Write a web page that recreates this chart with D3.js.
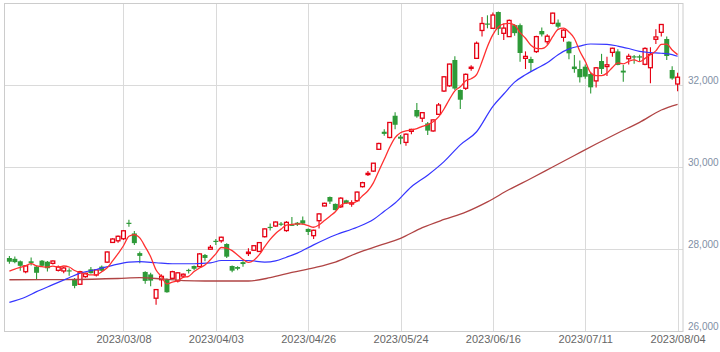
<!DOCTYPE html>
<html><head><meta charset="utf-8">
<script src="https://cdn.jsdelivr.net/npm/d3@7"></script>
<style>html,body{margin:0;padding:0;background:#fff;}svg{display:block;}</style>
</head><body>
<div id="chart"></div>
<script>
// Trading days (categories)
const dates = [
"2023/02/06","2023/02/07","2023/02/08","2023/02/09","2023/02/10","2023/02/13","2023/02/14","2023/02/15","2023/02/16","2023/02/17",
"2023/02/20","2023/02/21","2023/02/22","2023/02/24","2023/02/27","2023/02/28","2023/03/01","2023/03/02","2023/03/03","2023/03/06",
"2023/03/07","2023/03/08","2023/03/09","2023/03/10","2023/03/13","2023/03/14","2023/03/15","2023/03/16","2023/03/17","2023/03/20",
"2023/03/22","2023/03/23","2023/03/24","2023/03/27","2023/03/28","2023/03/29","2023/03/30","2023/03/31","2023/04/03","2023/04/04",
"2023/04/05","2023/04/06","2023/04/07","2023/04/10","2023/04/11","2023/04/12","2023/04/13","2023/04/14","2023/04/17","2023/04/18",
"2023/04/19","2023/04/20","2023/04/21","2023/04/24","2023/04/25","2023/04/26","2023/04/27","2023/04/28","2023/05/01","2023/05/02",
"2023/05/08","2023/05/09","2023/05/10","2023/05/11","2023/05/12","2023/05/15","2023/05/16","2023/05/17","2023/05/18","2023/05/19",
"2023/05/22","2023/05/23","2023/05/24","2023/05/25","2023/05/26","2023/05/29","2023/05/30","2023/05/31","2023/06/01","2023/06/02",
"2023/06/05","2023/06/06","2023/06/07","2023/06/08","2023/06/09","2023/06/12","2023/06/13","2023/06/14","2023/06/15","2023/06/16",
"2023/06/19","2023/06/20","2023/06/21","2023/06/22","2023/06/23","2023/06/26","2023/06/27","2023/06/28","2023/06/29","2023/06/30",
"2023/07/03","2023/07/04","2023/07/05","2023/07/06","2023/07/07","2023/07/10","2023/07/11","2023/07/12","2023/07/13","2023/07/14",
"2023/07/18","2023/07/19","2023/07/20","2023/07/21","2023/07/24","2023/07/25","2023/07/26","2023/07/27","2023/07/28","2023/07/31",
"2023/08/01","2023/08/02","2023/08/03","2023/08/04"];

const open = [
27780,27760,27700,27446,27700,27570,27715,27690,27650,27480,
27464,27480,27270,27140,27325,27505,27366,27570,27680,28160,
28200,28250,28640,28380,27900,27440,27380,26800,27250,27260,
27285,27220,27340,27490,27585,27570,27854,27995,28200,28200,
28122,27585,27560,27680,27890,27970,27940,28300,28540,28560,
28620,28450,28600,28640,28700,28490,28325,28690,29050,29268,
29100,29030,29187,29110,29178,29520,29830,29900,30432,30860,
30720,31250,30740,30600,30870,31390,31190,31063,30880,31285,
31853,31980,32610,31878,31920,32410,32650,33330,33500,33383,
33780,33260,33180,33460,33460,32650,32634,32815,33317,33056,
33505,33520,33163,33056,32450,32390,32447,32268,32100,32585,
32450,32795,32820,32350,32640,32700,32700,32505,32422,33115,
33285,33122,32366,32024];
const high = [
27830,27820,27720,27600,27790,27590,27730,27710,27720,27600,
27560,27530,27290,27470,27420,27560,27500,27600,27940,28260,
28330,28460,28715,28440,27940,27460,27420,27020,27380,27280,
27470,27430,27400,27520,27600,27900,27880,28100,28245,28300,
28140,27600,27580,27700,28017,28090,28160,28500,28620,28670,
28660,28680,28780,28660,28790,28500,28470,28870,29130,29280,
29110,29260,29200,29190,29400,29640,29900,30100,30590,30920,
31100,31334,30780,30820,30930,31560,31330,31100,31160,31560,
32220,32520,32700,31890,32280,32480,33060,33660,33700,33770,
33790,33500,33600,33480,33500,32820,32690,33200,33400,33240,
33760,33600,33360,33070,32730,32600,32500,32300,32440,32760,
32690,32910,32870,32490,32760,32730,32740,32920,32920,33360,
33490,33180,32460,32300];
const low = [
27640,27650,27470,27410,27600,27270,27570,27450,27620,27450,
27410,27350,27040,27120,27300,27400,27330,27450,27660,28150,
28150,28220,28545,28100,27650,27150,27090,26640,27080,26930,
27270,27180,27300,27400,27480,27560,27700,27990,28100,28150,
27780,27430,27480,27570,27830,27960,27930,28280,28450,28540,
28560,28420,28560,28560,28600,28340,28244,28500,29040,29100,
28940,29000,29100,29030,29150,29500,29780,29880,30420,30760,
30700,30920,30555,30520,30800,31200,31100,30780,30860,31270,
31830,31960,31880,31415,31880,32350,32640,33180,33383,33370,
33220,33100,33170,33200,32570,32390,32325,32780,33180,32990,
33480,33380,33056,32627,32300,32060,32150,31790,31940,32268,
32220,32690,32480,32080,32500,32520,32560,32480,32040,33000,
33180,32610,32130,31850];
const close = [
27690,27680,27590,27590,27660,27420,27590,27530,27707,27560,
27537,27470,27100,27446,27410,27410,27490,27470,27927,28244,
28310,28444,28623,28143,27832,27222,27229,27010,27333,26945,
27446,27419,27385,27476,27518,27880,27782,28041,28188,28287,
27813,27472,27518,27633,27923,28080,28156,28490,28514,28658,
28606,28650,28564,28593,28620,28416,28457,28856,29115,29157,
28950,29240,29122,29126,29388,29617,29845,30093,30573,30808,
31086,31030,30690,30800,30916,31233,31325,30887,31148,31512,
32200,32510,31913,31641,32260,32434,33018,33500,33480,33706,
33370,33388,33575,33265,32781,32698,32538,33180,33234,33190,
33753,33422,33338,32773,32388,32189,32203,31943,32419,32391,
32493,32896,32490,32304,32700,32682,32668,32891,32748,33172,
33476,32707,32159,32190];

// Short moving average (read per day)
const maShort = [
27460,27510,27550,27590,27642,27588,27570,27558,27581,27561,
27585,27561,27475,27423,27393,27367,27371,27445,27541,27708,
27888,28079,28310,28353,28270,28053,27810,27487,27325,27148,
27193,27231,27306,27334,27449,27536,27608,27739,27882,28036,
28022,27960,27856,27745,27672,27725,27862,28056,28233,28380,
28485,28584,28598,28614,28607,28569,28530,28588,28693,28800,
28907,29064,29117,29119,29165,29299,29420,29613,29903,30187,
30480,30717,30837,30883,30904,30934,30993,31032,31102,31221,
31414,31651,31857,31955,32105,32152,32253,32571,32938,33228,
33415,33489,33504,33461,33276,33141,32971,32892,32886,32968,
33179,33356,33387,33295,33135,32822,32578,32299,32228,32229,
32290,32428,32538,32515,32577,32614,32569,32649,32738,32832,
32991,32999,32852,32741];

// Medium moving average: [trading-day index, value]
const maMid = [
[0,26700],[3,26830],[5,26960],[8,27130],[11,27300],[13,27410],[16,27500],[19,27600],[22,27680],[24,27690],
[27,27665],[30,27640],[34,27640],[37,27660],[39,27720],[44,27720],[47,27680],[49,27710],[51,27800],[53,27900],
[56,28100],[60,28340],[64,28530],[67,28720],[69,28920],[71,29120],[74,29520],[77,29800],[80,30130],[83,30540],
[86,30860],[89,31480],[91,31780],[93,32070],[95,32250],[97,32400],[99,32540],[101,32740],[103,32880],[105,32950],
[107,33000],[110,32990],[112,32950],[114,32890],[116,32820],[118,32790],[120,32775],[122,32740],[123,32700]];

// Long moving average: [trading-day index, value]
const maLong = [
[0,27250],[10,27255],[20,27280],[24,27300],[28,27270],[32,27230],[36,27220],[40,27220],[44,27220],[48,27300],
[52,27430],[56,27540],[60,27680],[64,27900],[68,28080],[72,28260],[76,28520],[80,28720],[84,28900],[88,29150],
[92,29450],[96,29720],[100,30000],[104,30280],[108,30560],[112,30830],[116,31090],[120,31390],[123,31530]];

const xTickLabels = ["2023/03/08","2023/04/03","2023/04/26","2023/05/24","2023/06/16","2023/07/11","2023/08/04"];
const yTicks = [26000,28000,30000,32000];

const W = 720, H = 352;
const svg = d3.select("#chart").append("svg").attr("width", W).attr("height", H);

const plot = {left: 4.5, right: 683, top: 3.5, bottom: 331.5};
const x = d3.scalePoint().domain(dates).range([9.4, 677.6]);
const y = d3.scaleLinear().domain([26000, 34000]).range([331, 3]);

// grid
const grid = svg.append("g");
grid.selectAll("line.v").data(xTickLabels).join("line")
  .attr("x1", d => Math.round(x(d)) + 0.5).attr("x2", d => Math.round(x(d)) + 0.5)
  .attr("y1", plot.top).attr("y2", plot.bottom)
  .attr("stroke", "#dadada").attr("stroke-width", 1);
grid.selectAll("line.h").data(yTicks.filter(t => t > 26000)).join("line")
  .attr("x1", plot.left).attr("x2", plot.right)
  .attr("y1", d => Math.round(y(d)) + 0.5).attr("y2", d => Math.round(y(d)) + 0.5)
  .attr("stroke", "#dadada").attr("stroke-width", 1);
svg.append("rect").attr("x", plot.left).attr("y", plot.top)
  .attr("width", plot.right - plot.left).attr("height", plot.bottom - plot.top)
  .attr("fill", "none").attr("stroke", "#cccccc").attr("stroke-width", 1);

// candles
const RED = "#e60012", GREEN = "#2e9a38";
const cdata = dates.map((d, i) => ({d, o: open[i], h: high[i], l: low[i], c: close[i]}));
const cg = svg.append("g");
cg.selectAll("line.wick").data(cdata).join("line")
  .attr("x1", d => x(d.d)).attr("x2", d => x(d.d))
  .attr("y1", d => y(d.h)).attr("y2", d => y(d.l))
  .attr("stroke", d => d.c >= d.o ? RED : GREEN).attr("stroke-width", 1.1);
cg.selectAll("rect.body").data(cdata).join("rect")
  .each(function(d) {
    const up = d.c >= d.o;
    const top = y(Math.max(d.o, d.c));
    const hgt = Math.max(1.2, Math.abs(y(d.o) - y(d.c)));
    const s = d3.select(this);
    if (up) {
      s.attr("x", x(d.d) - 1.9).attr("width", 3.8).attr("y", top).attr("height", hgt)
       .attr("fill", "#ffffff").attr("stroke", RED).attr("stroke-width", 1.3);
    } else {
      s.attr("x", x(d.d) - 2.5).attr("width", 5).attr("y", top).attr("height", hgt)
       .attr("fill", GREEN).attr("stroke", "none");
    }
  });

// moving average lines
const lineShort = d3.line().x((v, i) => x(dates[i])).y(v => y(v)).curve(d3.curveMonotoneX);
const linePts = d3.line().x(p => x(dates[p[0]])).y(p => y(p[1])).curve(d3.curveMonotoneX);
svg.append("path").attr("d", linePts(maLong)).attr("fill", "none")
  .attr("stroke", "#b04444").attr("stroke-width", 1.3);
svg.append("path").attr("d", linePts(maMid)).attr("fill", "none")
  .attr("stroke", "#3535ff").attr("stroke-width", 1.2);
svg.append("path").attr("d", lineShort(maShort)).attr("fill", "none")
  .attr("stroke", "#ff3030").attr("stroke-width", 1.3);

// axes
const yAxis = d3.axisRight(y).tickValues(yTicks).tickFormat(d3.format(",")).tickSize(0).tickPadding(0);
const ya = svg.append("g").attr("transform", `translate(688,0)`).call(yAxis);
ya.select(".domain").remove();
ya.selectAll("text").attr("dy", "-0.2em").attr("fill", "#8190a5")
  .style("font-family", "'Liberation Sans', Arial, sans-serif").style("font-size", "10px");

const xAxis = d3.axisBottom(x).tickValues(xTickLabels).tickSize(0).tickPadding(0);
const xa = svg.append("g").attr("transform", `translate(0,335)`).call(xAxis);
xa.select(".domain").remove();
xa.selectAll("text").attr("dy", "0.75em").attr("fill", "#666666")
  .style("font-family", "'Liberation Sans', Arial, sans-serif").style("font-size", "11px");
</script>
</body></html>
